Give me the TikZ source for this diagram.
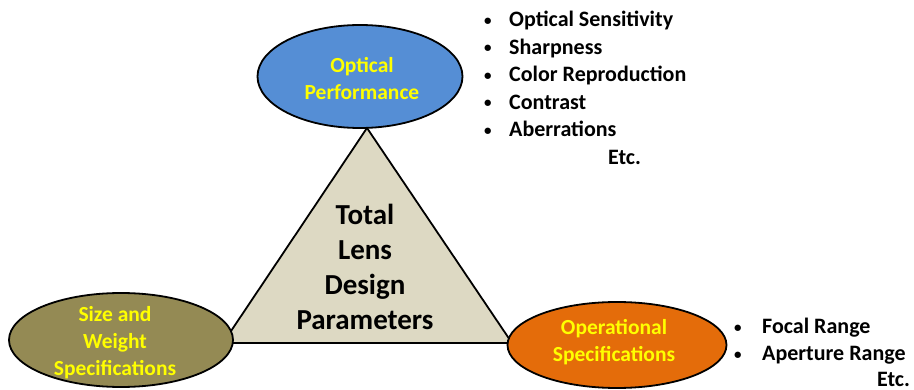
\documentclass[tikz,border=0pt]{standalone}
\usepackage{fontspec}
\setmainfont{Carlito}
\usetikzlibrary{shapes.geometric}
\definecolor{blueF}{HTML}{558ED5}
\definecolor{oliveF}{HTML}{948A54}
\definecolor{orangeF}{HTML}{E46C0A}
\definecolor{triF}{HTML}{DDD9C3}
\definecolor{yellowT}{HTML}{FFFF00}
\newcommand{\mybul}[1]{\makebox[#1][l]{\raisebox{1.5pt}{\fontsize{15}{15}\selectfont •}}}
\tikzset{
  oval/.style={ellipse, draw=black, line width=1.8pt, inner sep=0pt},
  ovaltext/.style={text=yellowT, font=\bfseries\fontsize{21.5}{27}\selectfont, align=center, inner sep=0pt},
  tritext/.style={text=black, font=\bfseries\fontsize{29}{35}\selectfont, align=center, inner sep=0pt},
  bullettext/.style={text=black, font=\bfseries\fontsize{22}{27}\selectfont, anchor=base west, inner sep=0pt},
}
\begin{document}
\begin{tikzpicture}[x=1pt,y=-1pt]
\useasboundingbox (0,0) rectangle (914,390);
% triangle
\coordinate (apex) at (367,128);
\coordinate (bl) at (223,343);
\coordinate (br) at (512,343);
\draw[fill=triF, line width=1.8pt, line join=miter] (apex) -- (bl) -- (br) -- cycle;
% ellipses
\node[oval, fill=blueF, minimum width=205pt, minimum height=103pt] (opt) at (360,76.5) {};
\node[oval, fill=oliveF, minimum width=224pt, minimum height=94pt] (size) at (121,340) {};
\node[oval, fill=orangeF, minimum width=219pt, minimum height=86pt] (oper) at (617,345) {};
% ellipse texts
\node[ovaltext] (optT) at (362,79) {Optical\\Performance};
\node[ovaltext] (sizeT) at (115,343) {Size and\\Weight\\Specifications};
\node[ovaltext] (operT) at (614,342) {Operational\\Specifications};
% triangle text
\node[tritext] (triT) at (365,267) {Total\\Lens\\Design\\Parameters};
% top bullet list
\node[bullettext] (b1) at (484,27) {\mybul{25pt}Optical Sensitivity};
\node[bullettext] (b2) at (484,54.5) {\mybul{25pt}Sharpness};
\node[bullettext] (b3) at (484,82) {\mybul{25pt}Color Reproduction};
\node[bullettext] (b4) at (484,109.5) {\mybul{25pt}Contrast};
\node[bullettext] (b5) at (484,137) {\mybul{25pt}Aberrations};
\node[bullettext] (b6) at (608,164.5) {Etc.};
% right bullet list
\node[bullettext] (r1) at (734,334) {\mybul{28pt}Focal Range};
\node[bullettext] (r2) at (734,361) {\mybul{28pt}Aperture Range};
\node[bullettext] (r3) at (877,386) {Etc.};
\end{tikzpicture}
\end{document}
